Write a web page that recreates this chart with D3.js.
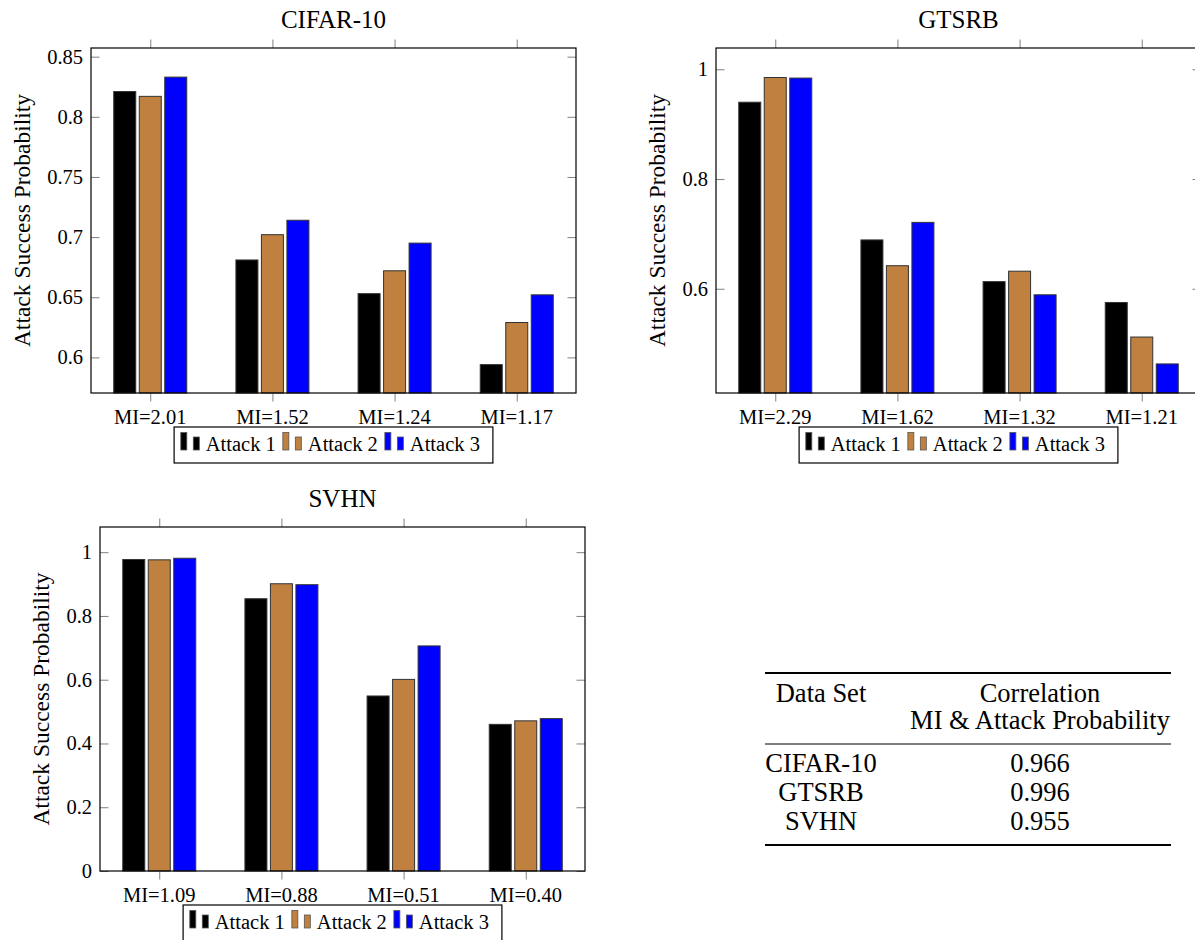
<!DOCTYPE html>
<html>
<head>
<meta charset="utf-8">
<script src="https://cdn.jsdelivr.net/npm/d3@7"></script>
<style>
  html, body { margin: 0; padding: 0; background: #fff; }
</style>
</head>
<body>
<div id="chart"></div>
<script>
// Series names and colours (pgfplots black / brown / blue)
const seriesNames = ['Attack 1', 'Attack 2', 'Attack 3'];
const seriesColors = ['#000000', '#bf8040', '#0000ff'];

// CIFAR-10
const cifarLabels = ['MI=2.01', 'MI=1.52', 'MI=1.24', 'MI=1.17'];
const cifarAttack1 = [0.821, 0.681, 0.653, 0.594];
const cifarAttack2 = [0.817, 0.702, 0.672, 0.629];
const cifarAttack3 = [0.833, 0.714, 0.695, 0.652];
const cifarTicks = [0.6, 0.65, 0.7, 0.75, 0.8, 0.85];

// GTSRB
const gtsrbLabels = ['MI=2.29', 'MI=1.62', 'MI=1.32', 'MI=1.21'];
const gtsrbAttack1 = [0.940, 0.689, 0.613, 0.575];
const gtsrbAttack2 = [0.985, 0.642, 0.632, 0.512];
const gtsrbAttack3 = [0.984, 0.721, 0.589, 0.463];
const gtsrbTicks = [0.6, 0.8, 1];

// SVHN
const svhnLabels = ['MI=1.09', 'MI=0.88', 'MI=0.51', 'MI=0.40'];
const svhnAttack1 = [0.977, 0.854, 0.549, 0.460];
const svhnAttack2 = [0.976, 0.901, 0.601, 0.471];
const svhnAttack3 = [0.981, 0.898, 0.706, 0.478];
const svhnTicks = [0, 0.2, 0.4, 0.6, 0.8, 1];

// Correlation table
const tableDatasets = ['CIFAR-10', 'GTSRB', 'SVHN'];
const tableCorrelations = ['0.966', '0.996', '0.955'];

const W = 1195, H = 940;
const FONT = '"Liberation Serif", Tinos, "Times New Roman", serif';

const svg = d3.select('#chart')
  .append('svg')
  .attr('width', W)
  .attr('height', H)
  .attr('viewBox', `0 0 ${W} ${H}`)
  .attr('font-family', FONT)
  .style('display', 'block');

svg.append('rect').attr('width', W).attr('height', H).attr('fill', '#fff');

/**
 * Draw one grouped bar panel
 */
function drawPanel(cfg) {
  const g = svg.append('g').attr('font-family', FONT);
  const left = cfg.left, top = cfg.top, w = cfg.width, h = cfg.height;
  const bottom = top + h;

  const x = d3.scaleLinear().domain([-0.485, cfg.labels.length - 1 + 0.485]).range([left, left + w]);
  const y = d3.scaleLinear().domain(cfg.yDomain).range([bottom, top]);

  const barWidth = 22;
  const barShift = 25.5;
  const series = [cfg.a1, cfg.a2, cfg.a3];

  // bars
  series.forEach((vals, si) => {
    g.append('g')
      .selectAll('rect')
      .data(vals)
      .enter()
      .append('rect')
      .attr('x', (d, i) => x(i) + (si - 1) * barShift - barWidth / 2)
      .attr('y', d => y(d))
      .attr('width', barWidth)
      .attr('height', d => bottom - y(d))
      .attr('fill', seriesColors[si])
      .attr('stroke', '#333')
      .attr('stroke-width', 1);
  });

  // y axis ticks, inside on both sides
  const tickLen = 8.5;
  const yAxisL = d3.axisRight(y).tickValues(cfg.ticks).tickSize(tickLen).tickFormat('');
  const yAxisR = d3.axisLeft(y).tickValues(cfg.ticks).tickSize(tickLen).tickFormat('');
  const gl = g.append('g').attr('transform', `translate(${left},0)`).call(yAxisL);
  const gr = g.append('g').attr('transform', `translate(${left + w},0)`).call(yAxisR);

  // x axis ticks, outside top and bottom
  const idx = cfg.labels.map((d, i) => i);
  const xAxisB = d3.axisBottom(x).tickValues(idx).tickSize(tickLen).tickFormat('');
  const xAxisT = d3.axisTop(x).tickValues(idx).tickSize(tickLen).tickFormat('');
  const gb = g.append('g').attr('transform', `translate(0,${bottom})`).call(xAxisB);
  const gt = g.append('g').attr('transform', `translate(0,${top})`).call(xAxisT);

  [gl, gr, gb, gt].forEach(a => {
    a.select('.domain').remove();
    a.selectAll('.tick line').attr('stroke', '#808080').attr('stroke-width', 1);
  });

  // y tick labels
  const tickLabels = g.append('g')
    .selectAll('text')
    .data(cfg.ticks)
    .enter()
    .append('text')
    .attr('x', left - 8)
    .attr('y', d => y(d))
    .attr('dy', '0.34em')
    .attr('text-anchor', 'end')
    .attr('font-size', 20.5)
    .text(d => String(d));

  // x tick labels
  g.append('g')
    .selectAll('text')
    .data(cfg.labels)
    .enter()
    .append('text')
    .attr('x', (d, i) => x(i))
    .attr('y', bottom + 31)
    .attr('text-anchor', 'middle')
    .attr('font-size', 20.5)
    .text(d => d);

  // frame
  g.append('rect')
    .attr('x', left)
    .attr('y', top)
    .attr('width', w)
    .attr('height', h)
    .attr('fill', 'none')
    .attr('stroke', '#000')
    .attr('stroke-width', 1.2);

  // title
  g.append('text')
    .attr('x', left + w / 2)
    .attr('y', top - 20)
    .attr('text-anchor', 'middle')
    .attr('font-size', 25)
    .text(cfg.title);

  // y label, placed left of the widest tick label
  let minX = left;
  tickLabels.each(function() { minX = Math.min(minX, this.getBBox().x); });
  g.append('text')
    .attr('transform', `translate(${minX - 17},${top + h / 2}) rotate(-90)`)
    .attr('text-anchor', 'middle')
    .attr('font-size', 23.5)
    .text('Attack Success Probability');

  // legend
  const lg = g.append('g');
  const ltop = bottom + 34, lh = 36;
  let cx = 6.7;
  seriesNames.forEach((name, si) => {
    const it = lg.append('g').attr('transform', `translate(${cx},0)`);
    it.append('rect').attr('x', 0).attr('y', ltop + 5.5).attr('width', 6).attr('height', 17.5)
      .attr('fill', seriesColors[si]).attr('stroke', '#555').attr('stroke-width', 0.8);
    it.append('rect').attr('x', 12.5).attr('y', ltop + 10).attr('width', 6).attr('height', 13)
      .attr('fill', seriesColors[si]).attr('stroke', '#555').attr('stroke-width', 0.8);
    const t = it.append('text').attr('x', 25).attr('y', ltop + 24).attr('font-size', 20.5).text(name);
    const tw = t.node().getComputedTextLength();
    cx += 25 + tw + 7;
  });
  const lw = cx - 7 + 13;
  const lx = left + w / 2 - lw / 2;
  lg.attr('transform', `translate(${lx},0)`);
  lg.insert('rect', ':first-child')
    .attr('x', 0).attr('y', ltop).attr('width', lw).attr('height', lh)
    .attr('fill', '#fff').attr('stroke', '#000').attr('stroke-width', 1.2);
}

drawPanel({
  title: 'CIFAR-10', left: 91, top: 48, width: 485, height: 345,
  labels: cifarLabels, a1: cifarAttack1, a2: cifarAttack2, a3: cifarAttack3,
  ticks: cifarTicks, yDomain: [0.5704, 0.8572]
});

drawPanel({
  title: 'GTSRB', left: 716, top: 48, width: 485, height: 345,
  labels: gtsrbLabels, a1: gtsrbAttack1, a2: gtsrbAttack2, a3: gtsrbAttack3,
  ticks: gtsrbTicks, yDomain: [0.410, 1.0388]
});

drawPanel({
  title: 'SVHN', left: 100, top: 527, width: 485, height: 344,
  labels: svhnLabels, a1: svhnAttack1, a2: svhnAttack2, a3: svhnAttack3,
  ticks: svhnTicks, yDomain: [0, 1.079]
});

/**
 * Correlation table (booktabs style)
 */
function drawTable() {
  const g = svg.append('g').attr('font-size', 26.5).attr('font-family', FONT);
  const x0 = 765, x1 = 1171;
  const col1 = 821, col2 = 1040;

  g.append('line').attr('x1', x0).attr('x2', x1).attr('y1', 673).attr('y2', 673)
    .attr('stroke', '#000').attr('stroke-width', 2);
  g.append('line').attr('x1', x0).attr('x2', x1).attr('y1', 744).attr('y2', 744)
    .attr('stroke', '#000').attr('stroke-width', 1);
  g.append('line').attr('x1', x0).attr('x2', x1).attr('y1', 845).attr('y2', 845)
    .attr('stroke', '#000').attr('stroke-width', 2);

  g.append('text').attr('x', col1).attr('y', 701.5).attr('text-anchor', 'middle').text('Data Set');
  g.append('text').attr('x', col2).attr('y', 701.5).attr('text-anchor', 'middle').text('Correlation');
  g.append('text').attr('x', col2).attr('y', 729).attr('text-anchor', 'middle').text('MI & Attack Probability');

  const rowY = d3.scalePoint().domain(tableDatasets).range([771.5, 830]);
  g.selectAll('.ds')
    .data(tableDatasets)
    .enter()
    .append('text')
    .attr('class', 'ds')
    .attr('x', col1)
    .attr('y', d => rowY(d))
    .attr('text-anchor', 'middle')
    .text(d => d);
  g.selectAll('.corr')
    .data(tableCorrelations)
    .enter()
    .append('text')
    .attr('class', 'corr')
    .attr('x', col2)
    .attr('y', (d, i) => rowY(tableDatasets[i]))
    .attr('text-anchor', 'middle')
    .text(d => d);
}

drawTable();
</script>
</body>
</html>
